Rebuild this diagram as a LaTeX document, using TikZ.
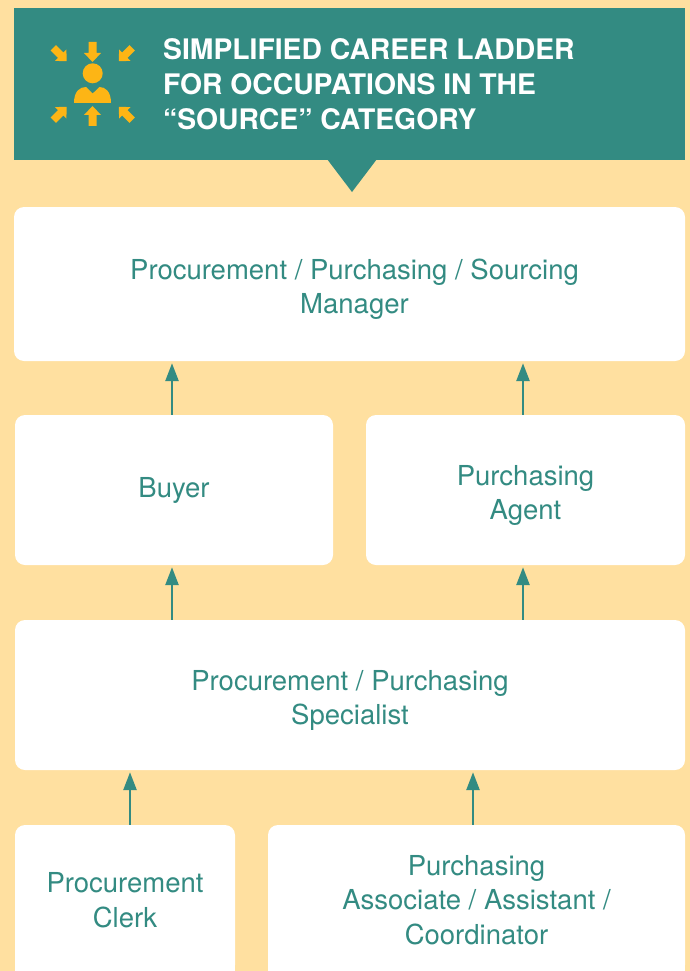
\documentclass[tikz,border=0pt]{standalone}
\usepackage{fontspec}
\setmainfont{TeX Gyre Heros}
\usetikzlibrary{arrows.meta}
\definecolor{ladderteal}{HTML}{338B82}
\definecolor{ladderbg}{HTML}{FFE0A0}
\definecolor{laddericon}{HTML}{FDB515}
\newcommand{\topstrut}{\rule{0pt}{31pt}}
\tikzset{
  box/.style={fill=white, rounded corners=10pt, inner sep=0pt, align=center,
    text=ladderteal, font=\fontsize{27.5}{34.5}\selectfont},
  uparrow/.style={draw=ladderteal, line width=2.7pt,
    -{Triangle[width=13pt,length=18pt]}, shorten >=2pt},
  headtext/.style={anchor=base west, inner sep=0pt, text=white,
    font=\bfseries\fontsize{28.3}{35}\selectfont},
  iconarrow/.pic={\fill[laddericon] (-10pt,-4pt) -- (1pt,-4pt) -- (1pt,-8.5pt) -- (10pt,0pt)
     -- (1pt,8.5pt) -- (1pt,4pt) -- (-10pt,4pt) -- cycle;}
}
\begin{document}
\begin{tikzpicture}[x=1pt,y=-1pt]
\useasboundingbox (0,0) rectangle (690,971);
\fill[ladderbg] (0,0) rectangle (690,971);
% header
\fill[ladderteal] (14,8) rectangle (685,160);
\fill[ladderteal] (327,159) -- (377,159) -- (352,192) -- cycle;
\node[headtext] (h1) at (163,60) {SIMPLIFIED CAREER LADDER};
\node[headtext] (h2) at (163,95) {FOR OCCUPATIONS IN THE};
\node[headtext] (h3) at (163,130) {“SOURCE” CATEGORY};
% icon
\pic[rotate=-90] at (92.5,52) {iconarrow};
\pic[rotate=-45,scale=0.95] at (60,54.5) {iconarrow};
\pic[rotate=-135,scale=0.95] at (125.5,54.5) {iconarrow};
\pic[rotate=90] at (92.5,116) {iconarrow};
\pic[rotate=45,scale=0.95] at (60,113.5) {iconarrow};
\pic[rotate=135,scale=0.95] at (125.5,113.5) {iconarrow};
\fill[laddericon] (92.7,73.3) circle (10pt);
\fill[laddericon] (74,103) .. controls (74,91) and (80,87) .. (86,87) -- (92.7,93.5)
  -- (99.4,87) .. controls (105,87) and (111,91) .. (111,103) -- cycle;
% boxes
\node[box, minimum width=671pt, minimum height=154pt] (mgr) at (349.5,284)
  {\topstrut\hspace*{10pt}Procurement / Purchasing / Sourcing\\\hspace*{10pt}Manager};
\node[box, minimum width=318pt, minimum height=150pt] (buyer) at (174,490) {Buyer};
\node[box, minimum width=319pt, minimum height=150pt] (agent) at (525.5,490) {\topstrut Purchasing\\Agent};
\node[box, minimum width=670pt, minimum height=150pt] (spec) at (350,695) {\topstrut Procurement / Purchasing\\Specialist};
\node[box, minimum width=220pt, minimum height=150pt] (clerk) at (125,900) {Procurement\\Clerk};
\node[box, minimum width=417pt, minimum height=150pt] (assoc) at (476.5,900) {Purchasing\\Associate / Assistant /\\Coordinator};
\fill[white] (15,950) rectangle (235,980);
\fill[white] (268,950) rectangle (685,980);
% arrows
\draw[uparrow] ([xshift=-2pt]buyer.north) -- ([xshift=-2pt]buyer.north |- mgr.south);
\draw[uparrow] ([xshift=-2.5pt]agent.north) -- ([xshift=-2.5pt]agent.north |- mgr.south);
\draw[uparrow] (spec.north -| 172,0) -- (buyer.south -| 172,0);
\draw[uparrow] (spec.north -| 523,0) -- (agent.south -| 523,0);
\draw[uparrow] ([xshift=5pt]clerk.north) -- ([xshift=5pt]clerk.north |- spec.south);
\draw[uparrow] ([xshift=-3.5pt]assoc.north) -- ([xshift=-3.5pt]assoc.north |- spec.south);
\end{tikzpicture}
\end{document}
